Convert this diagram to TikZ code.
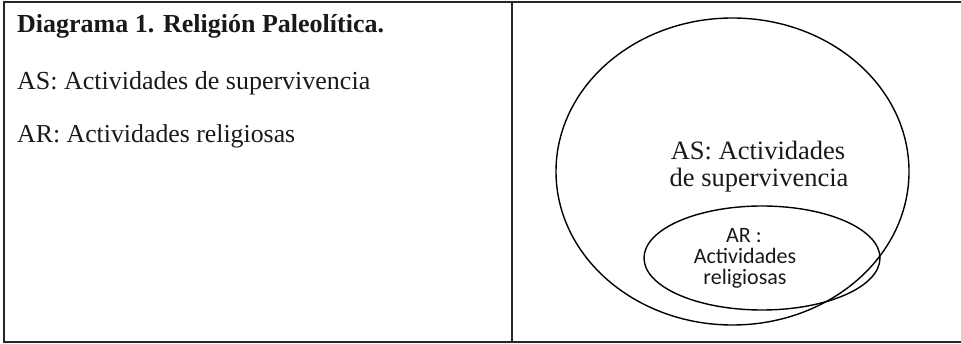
\documentclass[tikz,border=0pt]{standalone}
\usepackage{fontspec}
\setmainfont{Liberation Serif}
\newfontfamily\calib{Carlito}
\tikzset{
  frameline/.style={draw=black!85, line width=2pt},
  setline/.style={draw=black, line width=1.4pt},
  lefttxt/.style={anchor=base west, inner sep=0pt, text=black!90},
  astxt/.style={anchor=base, inner sep=0pt, text=black!90, font=\fontsize{26.5}{28}\selectfont},
  artxt/.style={anchor=base, inner sep=0pt, text=black!90, font=\calib\fontsize{22}{24}\selectfont},
}
\begin{document}
\begin{tikzpicture}[x=1pt,y=-1pt]
\useasboundingbox (0,0) rectangle (961,344);
% frame
\coordinate (tr) at (961,2);
\coordinate (tl) at (3.5,2);
\coordinate (bl) at (3.5,342);
\coordinate (br) at (961,342);
\coordinate (dt) at (512,2);
\coordinate (db) at (512,342);
\draw[frameline] (tr) -- (tl) -- (bl) -- (br);
\draw[frameline] (dt) -- (db);
% left texts
\node[lefttxt, font=\bfseries\fontsize{26}{28}\selectfont] (title) at (17,33) {Diagrama 1. Religión Paleolítica.};
\node[lefttxt, font=\fontsize{26}{28}\selectfont] (l1) at (17,90) {AS: Actividades de supervivencia};
\node[lefttxt, font=\fontsize{25.8}{28}\selectfont] (l2) at (17,143) {AR: Actividades religiosas};
% ellipses
\draw[setline] (732.5,171.5) ellipse [x radius=176.5, y radius=153.5];
\draw[setline] (762,258) ellipse [x radius=118, y radius=52];
% right texts
\node[astxt] (as1) at (758,160) {AS: Actividades};
\node[astxt] (as2) at (759,187) {de supervivencia};
\node[artxt] (ar1) at (744,243) {AR :};
\node[artxt] (ar2) at (745,264) {Actividades};
\node[artxt] (ar3) at (745,285) {religiosas};
\end{tikzpicture}
\end{document}
